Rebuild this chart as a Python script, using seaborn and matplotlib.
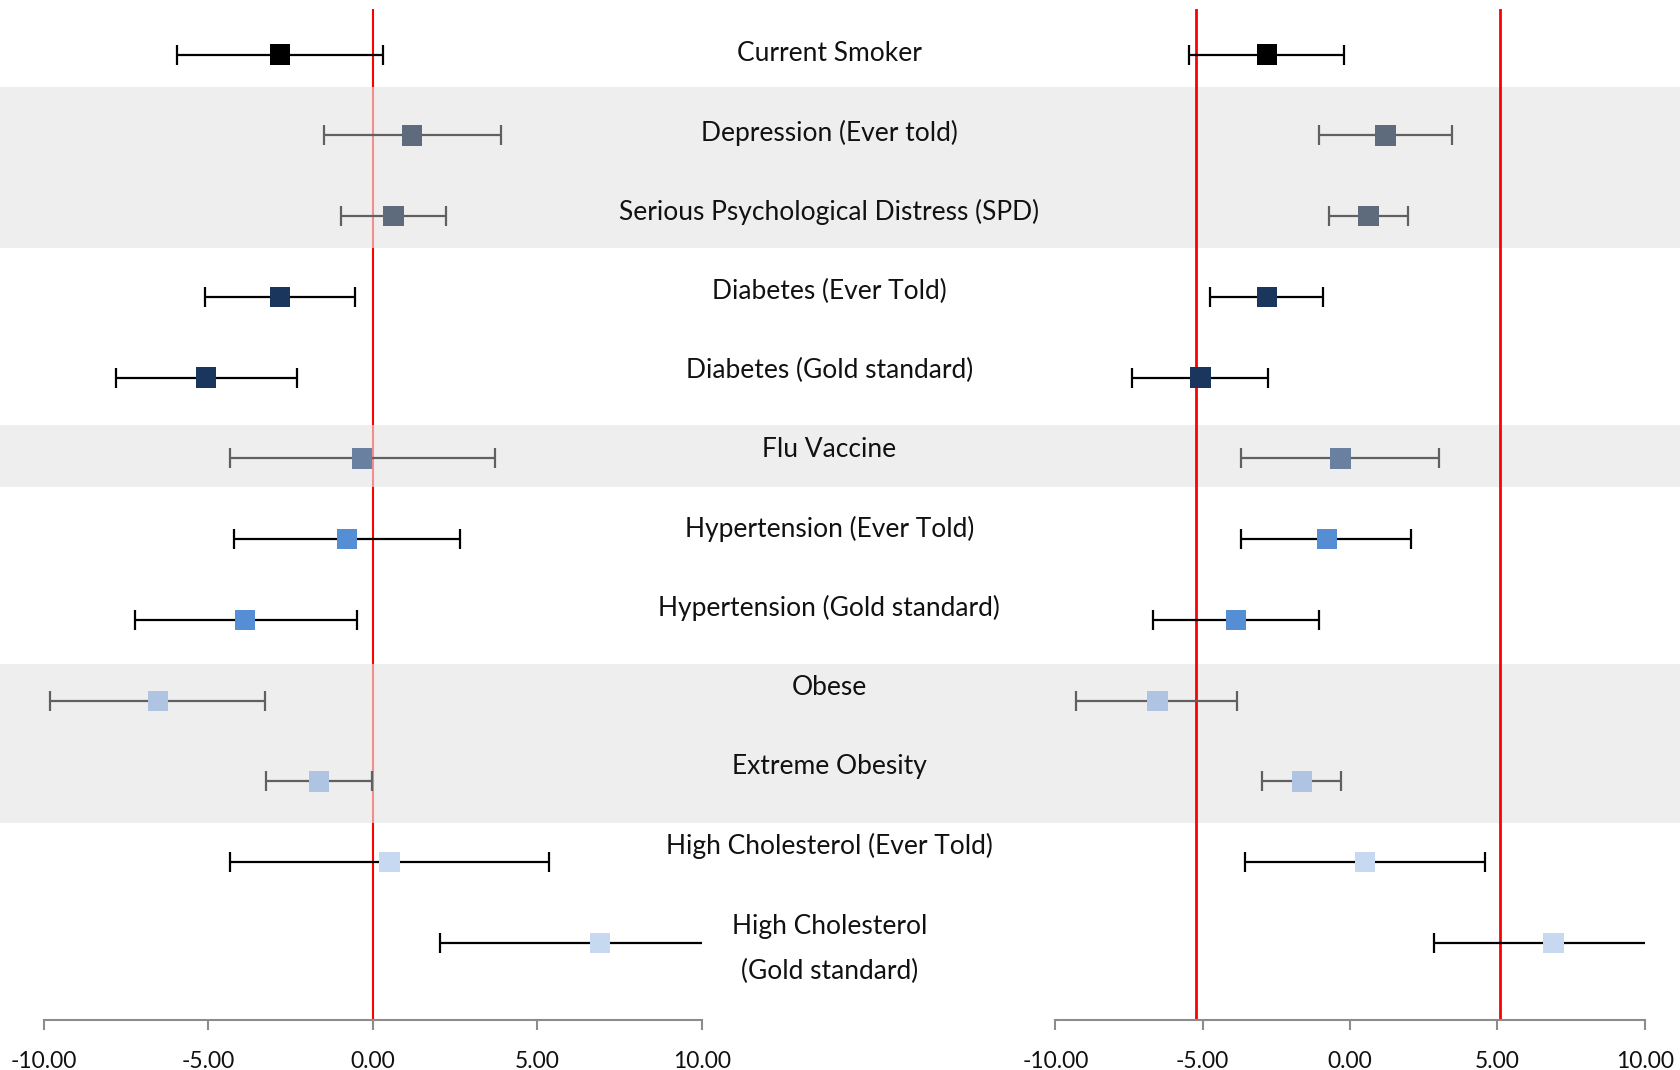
import numpy as np
import pandas as pd
import matplotlib.pyplot as plt
import seaborn as sns

# outcomes, top to bottom
outcomes = ["Current Smoker", "Depression (Ever told)", "Serious Psychological Distress (SPD)",
            "Diabetes (Ever Told)", "Diabetes (Gold standard)", "Flu Vaccine",
            "Hypertension (Ever Told)", "Hypertension (Gold standard)", "Obese",
            "Extreme Obesity", "High Cholesterol (Ever Told)", "High Cholesterol\n(Gold standard)"]

# point estimates (same in both panels)
estimate = [-2.82, 1.20, 0.63, -2.82, -5.08, -0.32, -0.79, -3.88, -6.53, -1.63, 0.51, 6.90]

# left panel intervals
left_lo = [-5.96, -1.49, -0.98, -5.11, -7.82, -4.34, -4.23, -7.23, -9.80, -3.24, -4.35, 2.04]
left_hi = [0.32, 3.91, 2.22, -0.53, -2.32, 3.70, 2.64, -0.49, -3.28, -0.03, 5.37, 11.78]

# right panel intervals
right_lo = [-5.46, -1.07, -0.73, -4.74, -7.39, -3.71, -3.69, -6.70, -9.29, -2.98, -3.57, 2.84]
right_hi = [-0.19, 3.45, 1.97, -0.91, -2.78, 3.02, 2.08, -1.06, -3.84, -0.31, 4.58, 10.96]

marker_colors = ["#000000", "#5E6B7C", "#5E6B7C", "#1B365D", "#1B365D", "#6A80A0",
                 "#558ED5", "#558ED5", "#AFC4E2", "#AFC4E2", "#C6D9F0", "#C6D9F0"]
banded = [False, True, True, False, False, True, False, False, True, True, False, False]

right_ref_lines = [-5.22, 5.08]
x_ticks = [-10, -5, 0, 5, 10]

df = pd.DataFrame({"outcome": outcomes, "estimate": estimate,
                   "left_lo": left_lo, "left_hi": left_hi,
                   "right_lo": right_lo, "right_hi": right_hi,
                   "banded": banded})
df["row"] = np.arange(len(df))

sns.set_theme(style="white")
plt.rcParams["font.family"] = ["Lato", "DejaVu Sans"]
plt.rcParams["axes.unicode_minus"] = False

fig = plt.figure(figsize=(16.8, 10.7), dpi=100)

# vertical layout shared by all axes
bottom, height = 0.0467, 0.9449
ylim = (11.954, -0.565)
band_spans = [(0.40, 2.39), (4.59, 5.36), (7.55, 9.52)]
band_color = "#EEEEEE"

# background: grey bands
bg = fig.add_axes([0, bottom, 1, height])
bg.set_xlim(0, 1)
bg.set_ylim(*ylim)
bg.axis("off")
for y0, y1 in band_spans:
    bg.axhspan(y0, y1, color=band_color, lw=0, zorder=0)

panels = [([0.02613, bottom, 0.3916, height], "left_lo", "left_hi"),
          ([0.62821, bottom, 0.3508, height], "right_lo", "right_hi")]
palette = dict(zip(outcomes, marker_colors))

axes = []
for rect, lo_col, hi_col in panels:
    ax = fig.add_axes(rect)
    ax.patch.set_alpha(0)
    for _, r in df.iterrows():
        ax.errorbar(r["estimate"], r["row"],
                    xerr=[[r["estimate"] - r[lo_col]], [r[hi_col] - r["estimate"]]],
                    fmt="none", ecolor="#606060" if r["banded"] else "#000000",
                    elinewidth=1.6, capsize=7, capthick=1.6, zorder=3)
    sns.scatterplot(data=df, x="estimate", y="row", hue="outcome", palette=palette,
                    marker="s", s=215, linewidth=0, legend=False, ax=ax, zorder=4)
    ax.set_xlim(-10, 10)
    ax.set_ylim(*ylim)
    ax.set_xticks(x_ticks)
    ax.set_xticklabels([f"{t:.2f}" for t in x_ticks])
    ax.set_yticks([])
    ax.set_xlabel("")
    ax.set_ylabel("")
    for side in ["left", "right", "top"]:
        ax.spines[side].set_visible(False)
    ax.spines["bottom"].set_color("#8C8C8C")
    ax.spines["bottom"].set_linewidth(1.5)
    ax.tick_params(axis="x", bottom=True, length=7, width=1.5, color="#8C8C8C",
                   labelsize=16.5, pad=15, labelcolor="#111111")
    axes.append(ax)

# left panel: reference at zero, partly hidden by the bands
axes[0].axvline(0, color="#FF0000", lw=1.5, zorder=1)
for y0, y1 in band_spans:
    axes[0].axhspan(y0, y1, color=band_color, alpha=0.6, lw=0, zorder=2)

# right panel: two reference lines
for v in right_ref_lines:
    axes[1].axvline(v, color="#FF0000", lw=2, zorder=2)

# outcome labels in the middle, on top of everything
lab = fig.add_axes([0, bottom, 1, height])
lab.patch.set_alpha(0)
lab.set_xlim(0, 1)
lab.set_ylim(*ylim)
lab.axis("off")
for i, name in enumerate(outcomes):
    if "\n" in name:
        lab.text(0.4936, i + 0.07, name, ha="center", va="center", fontsize=19,
                 linespacing=2.0, color="#111111")
    else:
        lab.text(0.4936, i * 0.981 - 0.01, name, ha="center", va="center",
                 fontsize=19, color="#111111")

fig.savefig("out.png", dpi=100)
